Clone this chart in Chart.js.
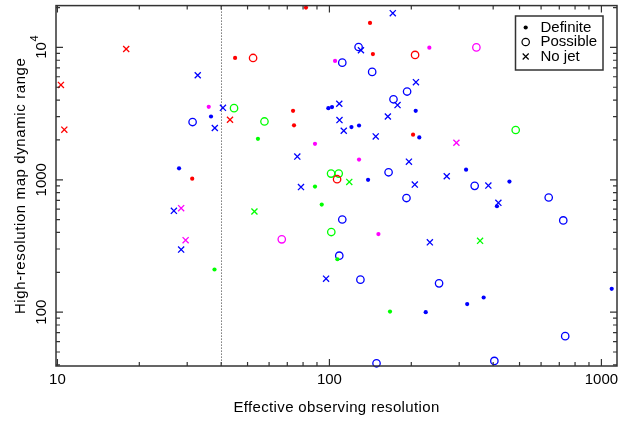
<!DOCTYPE html>
<html>
<head>
<meta charset="utf-8">
<script src="https://cdn.jsdelivr.net/npm/chart.js@4.4.0/dist/chart.umd.min.js"></script>
<style>
  html, body { margin: 0; padding: 0; background: #fff; }
</style>
</head>
<body>
<canvas id="chart" width="629" height="423"></canvas>
<script>
// each point: [effective observing resolution, high-res map dynamic range]
const redDefinite = [[31.3, 1020], [45, 8320], [82, 20000], [73.5, 3320], [74.1, 2580], [141, 15300], [144.5, 8910], [203, 2190]];
const redPossible = [[52.4, 8320], [206.5, 8770], [106.7, 1010]];
const redNoJet = [[10.3, 5210], [10.6, 2390], [17.9, 9730], [43.1, 2840]];

const magentaDefinite = [[36, 3560], [88.5, 1870], [104.9, 7900], [128.5, 1420], [233, 9950], [151.4, 389]];
const magentaPossible = [[347, 10000], [66.8, 355]];
const magentaNoJet = [[293, 1905], [28.5, 610], [29.6, 350]];

const greenDefinite = [[54.6, 2040], [88.5, 889], [37.8, 210], [93.7, 650], [107, 251], [167, 101]];
const greenPossible = [[44.6, 3475], [57.7, 2757], [101.4, 1114], [108.2, 1114], [484, 2377], [101.6, 403]];
const greenNoJet = [[118.3, 964], [53, 576], [358, 346]];

const blueDefinite = [[36.7, 3007], [28, 1221], [99.1, 3475], [102.2, 3540], [120.5, 2500], [128.5, 2570],
  [207.6, 3320], [214, 2090], [138.7, 1000], [318, 1193], [459, 969], [413, 631], [226, 100], [321, 115],
  [369, 129], [1091, 150]];
const bluePossible = [[31.4, 2730], [128, 10070], [111.5, 7670], [143.6, 6530], [193, 4640], [172, 4055],
  [165, 1139], [342, 900], [192, 728], [640, 735], [111.5, 501], [724, 493], [108.7, 267], [130, 176],
  [253, 165], [149, 41.1], [404, 42.8], [736, 65.9]];
const blueNoJet = [[32.8, 6160], [37.9, 2460], [40.6, 3497], [76.2, 1496], [78.6, 881], [171, 18150],
  [130.6, 9510], [208, 5460], [178, 3665], [108.7, 3750], [108.9, 2825], [112.9, 2347], [164, 3007],
  [148, 2127], [196, 1371], [206, 920], [270, 1063], [384, 904], [418, 670], [234, 337], [97.2, 179],
  [26.8, 583], [28.5, 297]];

const xTickValues = [10, 100, 1000];
const xTickLabels = ["10", "100", "1000"];
const yTickValues = [100, 1000, 10000];
const yTickLabels = ["100", "1000", "10^4"];
const legendLabels = ["Definite", "Possible", "No jet"];
const cutoffRes = 40;

const X_MIN = 9.88, X_MAX = 1141, Y_MIN = 39.2, Y_MAX = 20690;
const FONT = "15px 'Liberation Sans', Arial, sans-serif";

const styles = {
  definite: { pointStyle: "circle", pointRadius: 2.1, pointBorderWidth: 0, filled: true },
  possible: { pointStyle: "circle", pointRadius: 3.7, pointBorderWidth: 1.3, filled: false },
  nojet: { pointStyle: "crossRot", pointRadius: 4.3, pointBorderWidth: 1.3, filled: false },
};

function makeSet(points, color, kind) {
  const s = styles[kind];
  return {
    data: points.map(([x, y]) => ({ x, y })),
    pointStyle: s.pointStyle,
    pointRadius: s.pointRadius,
    pointBorderWidth: s.pointBorderWidth,
    pointBorderColor: color,
    pointBackgroundColor: s.filled ? color : "rgba(0,0,0,0)",
    showLine: false,
    clip: false,
  };
}

function drawMarker(ctx, kind, x, y) {
  ctx.beginPath();
  if (kind === 0) {
    ctx.arc(x, y, 2.1, 0, Math.PI * 2);
    ctx.fill();
  } else if (kind === 1) {
    ctx.arc(x, y, 3.7, 0, Math.PI * 2);
    ctx.stroke();
  } else {
    const d = 3;
    ctx.moveTo(x - d, y - d); ctx.lineTo(x + d, y + d);
    ctx.moveTo(x - d, y + d); ctx.lineTo(x + d, y - d);
    ctx.stroke();
  }
}

function tickList(min, max) {
  const out = [];
  for (let k = 0; k <= 5; k++) {
    for (let m = 1; m <= 9; m++) {
      const v = m * Math.pow(10, k);
      if (v >= min && v <= max) out.push({ v, major: m === 1 });
    }
  }
  return out;
}

const framePlugin = {
  id: "frame",
  beforeDatasetsDraw(chart) {
    const { ctx, chartArea: a, scales: { x } } = chart;
    const cx = Math.round(x.getPixelForValue(cutoffRes)) + 0.5;
    ctx.save();
    ctx.strokeStyle = "#333";
    ctx.lineWidth = 1;
    ctx.setLineDash([1, 2]);
    ctx.beginPath();
    ctx.moveTo(cx, a.top);
    ctx.lineTo(cx, a.bottom);
    ctx.stroke();
    ctx.restore();
  },
  afterDraw(chart) {
    const { ctx, chartArea: a, scales: { x, y } } = chart;
    ctx.save();
    ctx.strokeStyle = "#333";
    ctx.lineWidth = 1.5;
    ctx.strokeRect(a.left, a.top, a.right - a.left, a.bottom - a.top);

    // inward ticks on all four sides
    ctx.lineWidth = 1.2;
    ctx.beginPath();
    tickList(X_MIN, X_MAX).forEach((t) => {
      const px = x.getPixelForValue(t.v);
      const len = t.major ? 7 : 4;
      ctx.moveTo(px, a.bottom); ctx.lineTo(px, a.bottom - len);
      ctx.moveTo(px, a.top); ctx.lineTo(px, a.top + len);
    });
    tickList(Y_MIN, Y_MAX).forEach((t) => {
      const py = y.getPixelForValue(t.v);
      const len = t.major ? 7 : 4;
      ctx.moveTo(a.left, py); ctx.lineTo(a.left + len, py);
      ctx.moveTo(a.right, py); ctx.lineTo(a.right - len, py);
    });
    ctx.stroke();

    ctx.fillStyle = "#000";
    ctx.font = FONT;
    ctx.textAlign = "center";
    ctx.textBaseline = "middle";
    xTickValues.forEach((v, i) => {
      ctx.fillText(xTickLabels[i], x.getPixelForValue(v), a.bottom + 14);
    });

    // rotated y tick labels
    yTickValues.forEach((v, i) => {
      const py = y.getPixelForValue(v);
      const parts = yTickLabels[i].split("^");
      ctx.save();
      ctx.translate(41.5, py);
      ctx.rotate(-Math.PI / 2);
      if (parts.length === 2) {
        const w1 = ctx.measureText(parts[0]).width;
        ctx.font = "11px 'Liberation Sans', Arial, sans-serif";
        const w2 = ctx.measureText(parts[1]).width;
        const start = -(w1 + w2) / 2;
        ctx.textAlign = "left";
        ctx.fillText(parts[1], start + w1 + 0.5, -7);
        ctx.font = FONT;
        ctx.fillText(parts[0], start, 0);
      } else {
        ctx.fillText(parts[0], 0, 0);
      }
      ctx.restore();
    });

    // axis titles
    ctx.textAlign = "center";
    ctx.letterSpacing = "0.35px";
    ctx.fillText("Effective observing resolution", (a.left + a.right) / 2, 408);
    ctx.save();
    ctx.letterSpacing = "0.6px";
    ctx.translate(21, (a.top + a.bottom) / 2);
    ctx.rotate(-Math.PI / 2);
    ctx.fillText("High-resolution map dynamic range", 0, 0);
    ctx.restore();
    ctx.letterSpacing = "0px";

    // legend
    ctx.lineWidth = 1.5;
    ctx.strokeStyle = "#333";
    ctx.fillStyle = "#fff";
    ctx.fillRect(515.5, 16, 87.5, 54);
    ctx.strokeRect(515.5, 16, 87.5, 54);
    ctx.fillStyle = "#000";
    ctx.strokeStyle = "#000";
    ctx.lineWidth = 1.2;
    ctx.textAlign = "left";
    legendLabels.forEach((label, i) => {
      const ly = 27.5 + i * 14.5;
      drawMarker(ctx, i, 525.7, ly);
      ctx.fillText(label, 540.5, ly);
    });
    ctx.restore();
  },
};

new Chart(document.getElementById("chart"), {
  type: "scatter",
  data: {
    datasets: [
      makeSet(redDefinite, "#ff0000", "definite"),
      makeSet(redPossible, "#ff0000", "possible"),
      makeSet(redNoJet, "#ff0000", "nojet"),
      makeSet(magentaDefinite, "#ff00ff", "definite"),
      makeSet(magentaPossible, "#ff00ff", "possible"),
      makeSet(magentaNoJet, "#ff00ff", "nojet"),
      makeSet(greenDefinite, "#00ff00", "definite"),
      makeSet(greenPossible, "#00ff00", "possible"),
      makeSet(greenNoJet, "#00ff00", "nojet"),
      makeSet(blueDefinite, "#0000ff", "definite"),
      makeSet(bluePossible, "#0000ff", "possible"),
      makeSet(blueNoJet, "#0000ff", "nojet"),
    ],
  },
  options: {
    responsive: false,
    animation: false,
    events: [],
    layout: { padding: { left: 56, right: 12, top: 4.5, bottom: 57 } },
    scales: {
      x: { type: "logarithmic", min: X_MIN, max: X_MAX, bounds: "data", display: false },
      y: { type: "logarithmic", min: Y_MIN, max: Y_MAX, bounds: "data", display: false },
    },
    plugins: { legend: { display: false }, tooltip: { enabled: false } },
  },
  plugins: [framePlugin],
});
</script>
</body>
</html>
